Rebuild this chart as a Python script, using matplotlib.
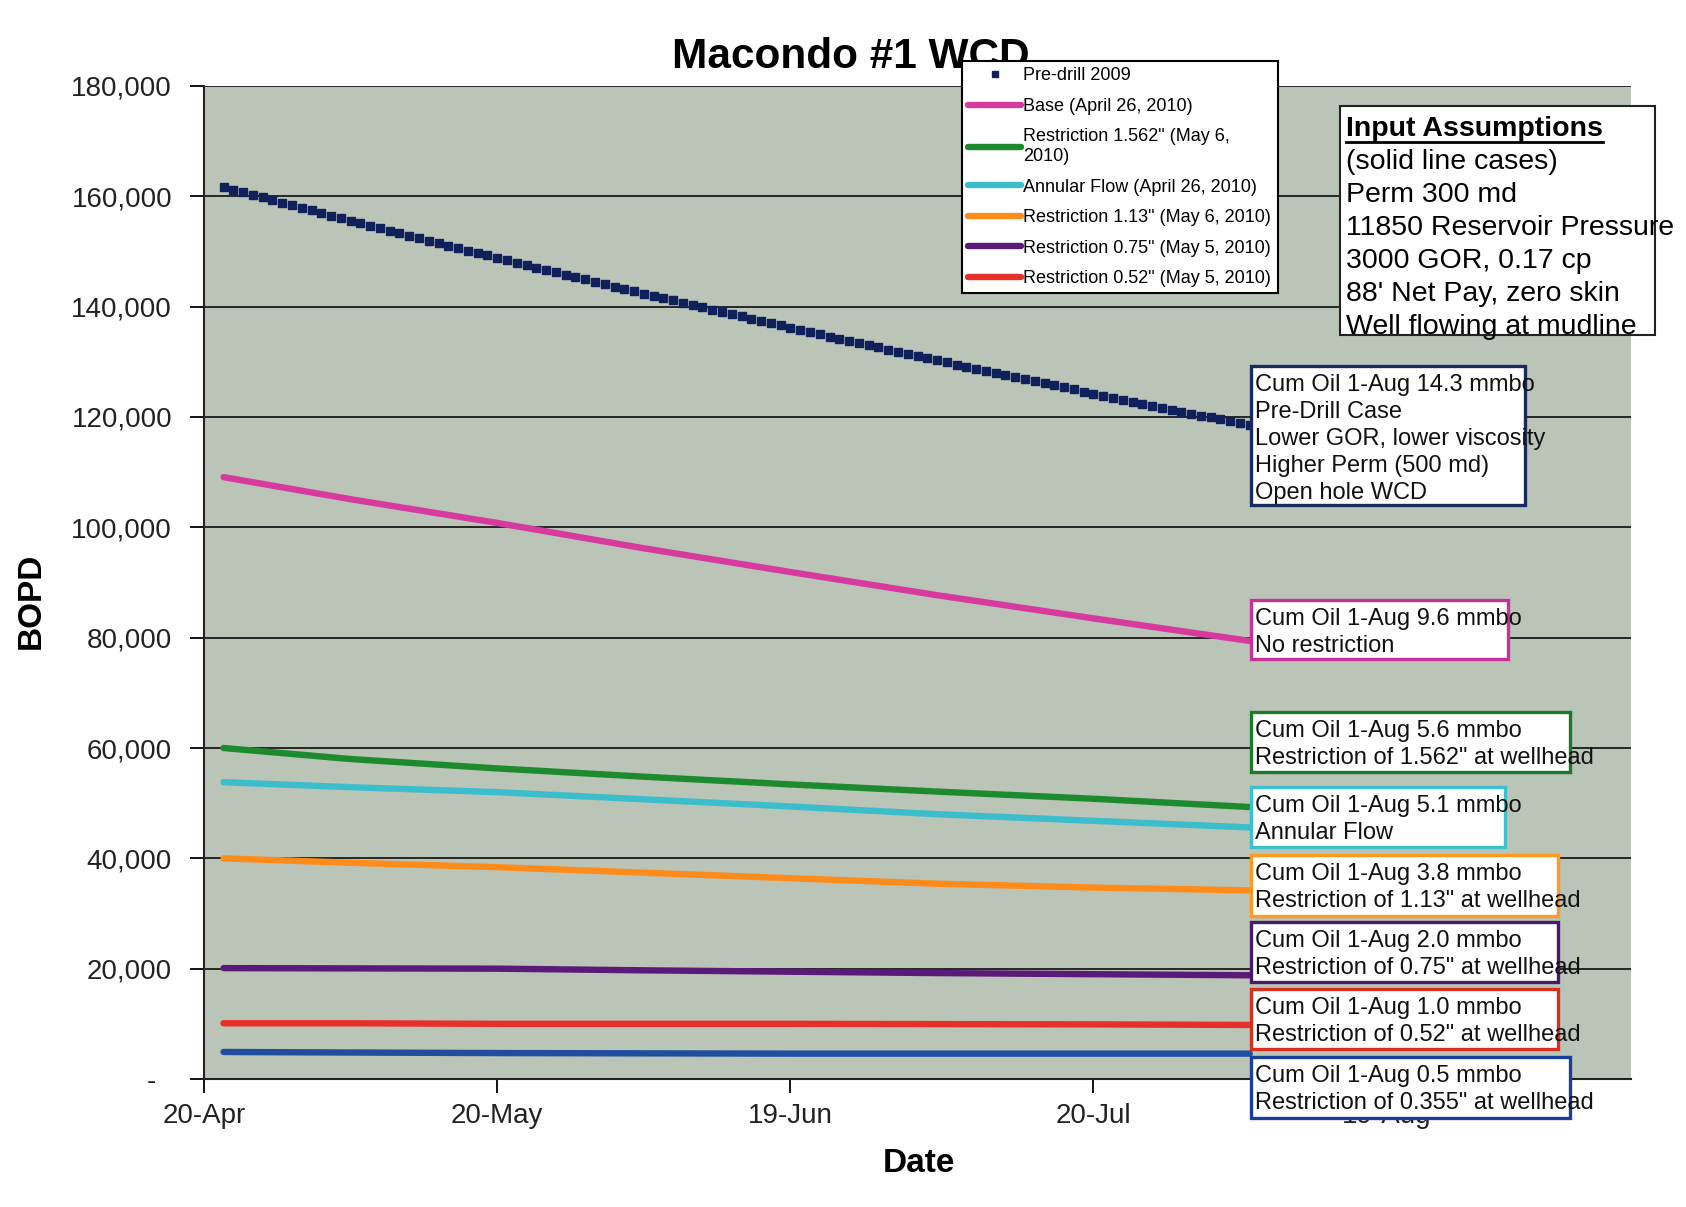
import matplotlib
matplotlib.use("Agg")
import matplotlib.pyplot as plt
import pandas as pd
from matplotlib.patches import Rectangle
from matplotlib.lines import Line2D

plt.rcParams["font.family"] = ["Liberation Sans", "DejaVu Sans"]

W, H = 1686, 1207

# pre-drill 2009 case, daily points 22-Apr .. 5-Aug (BOPD)
predrill = [
    161700, 161230, 160750, 160280, 159800, 159330, 158860, 158390, 157920, 157450,
    156980, 156520, 156060, 155600, 155140, 154680, 154220, 153770, 153320, 152860,
    152410, 151960, 151510, 151070, 150620, 150170, 149730, 149290, 148850, 148400,
    147960, 147530, 147090, 146660, 146220, 145790, 145360, 144930, 144500, 144070,
    143650, 143220, 142800, 142380, 141960, 141530, 141120, 140700, 140290, 139870,
    139460, 139050, 138640, 138230, 137820, 137410, 137000, 136600, 136200, 135790,
    135390, 134990, 134590, 134190, 133800, 133400, 133010, 132620, 132220, 131830,
    131440, 131050, 130670, 130280, 129890, 129510, 129130, 128750, 128370, 127980,
    127600, 127230, 126850, 126480, 126100, 125730, 125360, 124990, 124620, 124250,
    123880, 123520, 123150, 122790, 122430, 122060, 121700, 121340, 120990, 120630,
    120270, 119920, 119560, 119210, 118860, 118500,
]
predrill_start = "2010-04-22"

case_dates = ["2010-04-22", "2010-05-05", "2010-05-20", "2010-06-04",
              "2010-06-19", "2010-07-04", "2010-07-20", "2010-08-05"]
base = [109100, 105100, 100800, 96200, 91900, 87700, 83500, 79400]
r1562 = [60000, 58000, 56300, 54800, 53400, 52100, 50800, 49300]
annular = [53800, 52900, 52000, 50700, 49400, 48000, 46800, 45600]
r113 = [40000, 39200, 38400, 37400, 36400, 35400, 34700, 34200]
r075 = [20100, 20050, 20000, 19700, 19450, 19200, 19000, 18800]
r052 = [10100, 10100, 10000, 10000, 10000, 9950, 9900, 9800]
r0355 = [4900, 4800, 4700, 4650, 4600, 4600, 4600, 4600]

tick_dates = ["2010-04-20", "2010-05-20", "2010-06-19", "2010-07-20", "2010-08-19"]
tick_labels = ["20-Apr", "20-May", "19-Jun", "20-Jul", "19-Aug"]
y_ticks = [0, 20000, 40000, 60000, 80000, 100000, 120000, 140000, 160000, 180000]
y_labels = ["-  ", "20,000", "40,000", "60,000", "80,000", "100,000",
            "120,000", "140,000", "160,000", "180,000"]

series = [
    ("Base (April 26, 2010)", base, "#d63a9e"),
    ("Restriction 1.562\" (May 6,\n2010)", r1562, "#1e8a2e"),
    ("Annular Flow (April 26, 2010)", annular, "#3cbdcc"),
    ("Restriction 1.13\" (May 6, 2010)", r113, "#ff8c1a"),
    ("Restriction 0.75\" (May 5, 2010)", r075, "#5b1a78"),
    ("Restriction 0.52\" (May 5, 2010)", r052, "#e8302a"),
    (None, r0355, "#1f4ea0"),
]

notes = [
    ("Cum Oil 1-Aug 14.3 mmbo\nPre-Drill Case\nLower GOR, lower viscosity\n"
     "Higher Perm (500 md)\nOpen hole WCD", (1251, 366, 1525, 505), "#1a2a5e"),
    ("Cum Oil 1-Aug 9.6 mmbo\nNo restriction", (1251, 600, 1508, 659), "#c8309a"),
    ("Cum Oil 1-Aug 5.6 mmbo\nRestriction of 1.562\" at wellhead", (1251, 712, 1570, 772), "#1a7a2a"),
    ("Cum Oil 1-Aug 5.1 mmbo\nAnnular Flow", (1251, 787, 1505, 847), "#3cc0d0"),
    ("Cum Oil 1-Aug 3.8 mmbo\nRestriction of 1.13\" at wellhead", (1251, 855, 1558, 916), "#ff9a20"),
    ("Cum Oil 1-Aug 2.0 mmbo\nRestriction of 0.75\" at wellhead", (1251, 922, 1558, 982), "#4a1a6a"),
    ("Cum Oil 1-Aug 1.0 mmbo\nRestriction of 0.52\" at wellhead", (1251, 989, 1558, 1049), "#d83020"),
    ("Cum Oil 1-Aug 0.5 mmbo\nRestriction of 0.355\" at wellhead", (1251, 1057, 1570, 1118), "#1a3f9a"),
]

assumptions = ["(solid line cases)", "Perm 300 md", "11850 Reservoir Pressure",
               "3000 GOR, 0.17 cp", "88' Net Pay, zero skin", "Well flowing at mudline"]


def fx(px):
    return px / W


def fy(py):
    return 1 - py / H


fig = plt.figure(figsize=(W / 100, H / 100), dpi=100)
ax = fig.add_axes([fx(204), fy(1079), (1631 - 204) / W, (1079 - 86) / H])
ax.set_facecolor("#bac4b7")

x_pre = pd.date_range(predrill_start, periods=len(predrill), freq="D")
x_case = pd.to_datetime(case_dates)

handles = []
labels = []
h = ax.plot(x_pre, predrill, linestyle="none", marker="s", markersize=6.3,
            color="#10205a", zorder=4)[0]
handles.append(h)
labels.append("Pre-drill 2009")
for label, vals, col in series:
    h = ax.plot(x_case, vals, color=col, lw=4.6, solid_capstyle="round", zorder=3)[0]
    if label:
        handles.append(h)
        labels.append(label)

ax.set_xlim(pd.Timestamp("2010-04-20"), pd.Timestamp("2010-09-13"))
ax.set_ylim(0, 180000)
ax.set_yticks(y_ticks)
ax.set_yticklabels(y_labels)
ax.set_xticks(pd.to_datetime(tick_dates))
ax.set_xticklabels(tick_labels)
ax.tick_params(axis="y", direction="out", length=10, width=1.3, pad=13, labelsize=20,
               labelcolor="#222222")
ax.tick_params(axis="x", direction="out", length=10, width=1.3, pad=7, labelsize=20,
               labelcolor="#222222")
ax.grid(axis="y", color="#1a1a1a", lw=1.3)
ax.set_axisbelow(True)
for s in ["top", "right"]:
    ax.spines[s].set_visible(False)
for s in ["left", "bottom"]:
    ax.spines[s].set_linewidth(1.5)
    ax.spines[s].set_color("#222222")

ax.set_ylabel("BOPD", fontsize=24, fontweight="bold")
ax.yaxis.set_label_coords(-0.110, 0.482)
ax.set_xlabel("Date", fontsize=24, fontweight="bold")
ax.xaxis.set_label_coords(0.501, -0.069)

fig.text(fx(851), fy(57), "Macondo #1 WCD", fontsize=30.5, fontweight="bold",
         ha="center", va="center", zorder=2)

leg = fig.legend(handles, labels, loc="upper left", bbox_to_anchor=(fx(962), fy(61)),
                 borderaxespad=0, fancybox=False, edgecolor="black", framealpha=1,
                 fontsize=13, handlelength=2.9, handletextpad=0.15, labelspacing=0.75,
                 borderpad=0.35, markerscale=0.75)
leg.get_frame().set_linewidth(1.5)
leg.set_zorder(6)

# input assumptions box
fig.add_artist(Rectangle((fx(1340), fy(335)), (1655 - 1340) / W, (335 - 106) / H,
                         transform=fig.transFigure, facecolor="white", edgecolor="#222222",
                         lw=1.5, zorder=5))
t_head = fig.text(fx(1346), fy(116), "Input Assumptions", fontsize=20.5, fontweight="bold",
                  ha="left", va="top", zorder=6)
fig.text(fx(1346), fy(149), "\n".join(assumptions), fontsize=20.5, ha="left", va="top",
         linespacing=1.35, zorder=6)
fig.canvas.draw()
bb = t_head.get_window_extent(fig.canvas.get_renderer())
fig.add_artist(Line2D([bb.x0 / W, bb.x1 / W], [fy(142), fy(142)],
                      transform=fig.transFigure, color="black", lw=2, zorder=7))

for text, (x0, y0, x1, y1), col in notes:
    fig.add_artist(Rectangle((fx(x0), fy(y1)), (x1 - x0) / W, (y1 - y0) / H,
                             transform=fig.transFigure, facecolor="white", edgecolor=col,
                             lw=2.4, zorder=5))
    fig.text(fx(x0 + 4), fy(y0 + 8), text, fontsize=17, ha="left", va="top",
             linespacing=1.3, zorder=6, color="#111111")

fig.savefig("out.png", dpi=100, facecolor="white")
